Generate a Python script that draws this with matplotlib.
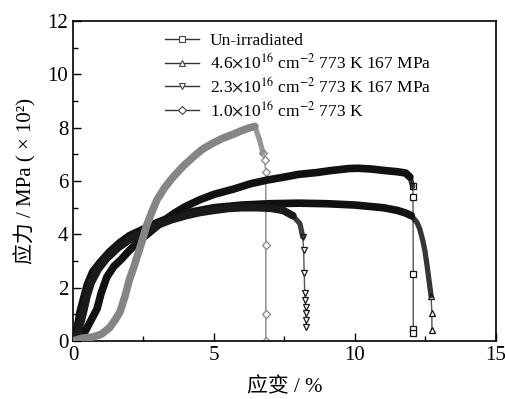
import matplotlib
matplotlib.use("Agg")
import matplotlib.pyplot as plt
from matplotlib.lines import Line2D
from matplotlib.ticker import MultipleLocator

plt.rcParams['font.family'] = ['Liberation Serif', 'Noto Sans CJK SC']
plt.rcParams['mathtext.fontset'] = 'stix'

# strain (%) / stress (x100 MPa)
unirr_x = [0, 0.4, 0.7, 0.85, 1.0, 1.2, 1.45, 1.7, 2.0, 2.4, 2.8, 3.2, 3.6, 4.0, 4.5, 5.0,
           5.7, 6.3, 6.9, 7.5, 8.0, 8.65, 9.2, 9.8, 10.1, 10.6, 11.0, 11.5, 11.8, 11.95,
           12.05, 12.06, 12.07, 12.07, 12.07]
unirr_y = [0, 0.3, 0.9, 1.2, 1.8, 2.4, 2.8, 3.05, 3.4, 3.8, 4.15, 4.5, 4.8, 5.05, 5.3, 5.5,
           5.7, 5.9, 6.04, 6.15, 6.25, 6.32, 6.4, 6.47, 6.48, 6.45, 6.4, 6.35, 6.3, 6.15,
           5.8, 5.4, 2.5, 0.45, 0.3]

f46_x = [0, 0.15, 0.25, 0.4, 0.5, 0.7, 0.96, 1.3, 1.67, 2.0, 2.5, 3.0, 3.5, 4.0, 4.5, 5.0,
         6.0, 7.0, 8.0, 9.0, 10.0, 10.5, 11.0, 11.5, 11.8, 12.0, 12.2, 12.3, 12.4, 12.48,
         12.55, 12.6, 12.65, 12.7, 12.73, 12.73]
f46_y = [0, 0.5, 1.1, 1.7, 2.1, 2.6, 2.95, 3.35, 3.7, 3.95, 4.2, 4.45, 4.65, 4.8, 4.9, 5.0,
         5.1, 5.15, 5.17, 5.15, 5.1, 5.05, 5.0, 4.9, 4.8, 4.7, 4.45, 4.2, 3.8, 3.4,
         2.9, 2.5, 2.1, 1.7, 1.05, 0.4]

f23_x = [0, 0.2, 0.35, 0.5, 0.65, 0.9, 1.2, 1.6, 2.0, 2.5, 3.0, 3.5, 4.0, 4.5, 5.0, 5.5,
         6.0, 6.5, 7.0, 7.45, 7.8, 8.05, 8.15, 8.18, 8.2, 8.22, 8.24, 8.25, 8.26, 8.27, 8.28]
f23_y = [0, 0.4, 1.0, 1.7, 2.2, 2.7, 3.1, 3.5, 3.8, 4.1, 4.35, 4.55, 4.7, 4.82, 4.9, 4.97,
         5.0, 5.0, 4.98, 4.9, 4.7, 4.4, 3.9, 3.4, 2.55, 1.8, 1.54, 1.28, 1.05, 0.79, 0.52]

f10_x = [0, 0.3, 0.7, 1.0, 1.3, 1.5, 1.67, 1.85, 2.0, 2.15, 2.27, 2.45, 2.6, 2.8, 2.98,
         3.25, 3.55, 3.9, 4.26, 4.6, 4.96, 5.3, 5.67, 6.0, 6.28, 6.45, 6.6, 6.74, 6.8,
         6.84, 6.84, 6.84, 6.84]
f10_y = [0, 0.1, 0.15, 0.25, 0.5, 0.8, 1.1, 1.7, 2.3, 2.75, 3.15, 3.75, 4.3, 4.85, 5.3,
         5.75, 6.15, 6.55, 6.9, 7.2, 7.42, 7.6, 7.75, 7.9, 8.0, 8.05, 7.6, 7.05, 6.8,
         6.34, 3.6, 1.0, 0]

labels = ['Un-irradiated',
          r'4.6$\times$10$^{16}$ cm$^{-2}$ 773 K 167 MPa',
          r'2.3$\times$10$^{16}$ cm$^{-2}$ 773 K 167 MPa',
          r'1.0$\times$10$^{16}$ cm$^{-2}$ 773 K']

fig = plt.figure(figsize=(5.06, 3.99), dpi=100)
ax = fig.add_axes([0.1443, 0.1454, 0.8357, 0.8017])

# (x, y, wide-band end, narrow-band end, marker, colour, band zorder, tail zorder)
series = [
    (unirr_x, unirr_y, 30, 31, 's', '#111111', 3, 2),
    (f46_x, f46_y, 26, 34, '^', '#111111', 3, 2),
    (f23_x, f23_y, 21, 23, 'v', '#1a1a1a', 3, 2),
    (f10_x, f10_y, 26, 28, 'D', '#858585', 4, 1),
]

for x, y, nb, nn, m, c, zb, zt in series:
    ax.plot(x[:nb], y[:nb], color=c, lw=5.5, solid_capstyle='round',
            solid_joinstyle='round', zorder=zb)
    ax.plot(x[nb - 1:nn], y[nb - 1:nn], color=c, lw=3.8, solid_capstyle='round',
            solid_joinstyle='round', alpha=0.85, zorder=zb)
    ax.plot(x[nn - 1:], y[nn - 1:], color='#555555' if m != 'D' else c, lw=1,
            marker=m, ms=5 if m != 'D' else 4, mfc='white', mec=c, mew=0.9, zorder=zt)

handles = [Line2D([], [], color='#333333', lw=1, marker=m, ms=4.5 if m != 'D' else 3.8,
                  mfc='white', mec='#444444', mew=0.8)
           for m in ['s', '^', 'v', 'D']]
ax.legend(handles, labels, loc='upper left', bbox_to_anchor=(0.2, 0.985),
          frameon=False, fontsize=12.5, handlelength=2.0, handletextpad=0.6,
          labelspacing=0.22, borderaxespad=0)

ax.set_xlim(0, 15)
ax.set_ylim(0, 12)
ax.xaxis.set_major_locator(MultipleLocator(5))
ax.xaxis.set_minor_locator(MultipleLocator(2.5))
ax.yaxis.set_major_locator(MultipleLocator(2))
ax.yaxis.set_minor_locator(MultipleLocator(1))
ax.tick_params(which='both', direction='in', labelsize=15, top=False, right=False)
ax.tick_params(which='major', length=6, width=1)
ax.tick_params(which='minor', length=3.5, width=1)
for s in ax.spines.values():
    s.set_linewidth(1.2)

ax.set_xlabel('应变 / %', fontsize=15, labelpad=9)
ax.set_ylabel('应力 / MPa ( × 10²)', fontsize=15, labelpad=8)

fig.savefig('out.png', dpi=100)
